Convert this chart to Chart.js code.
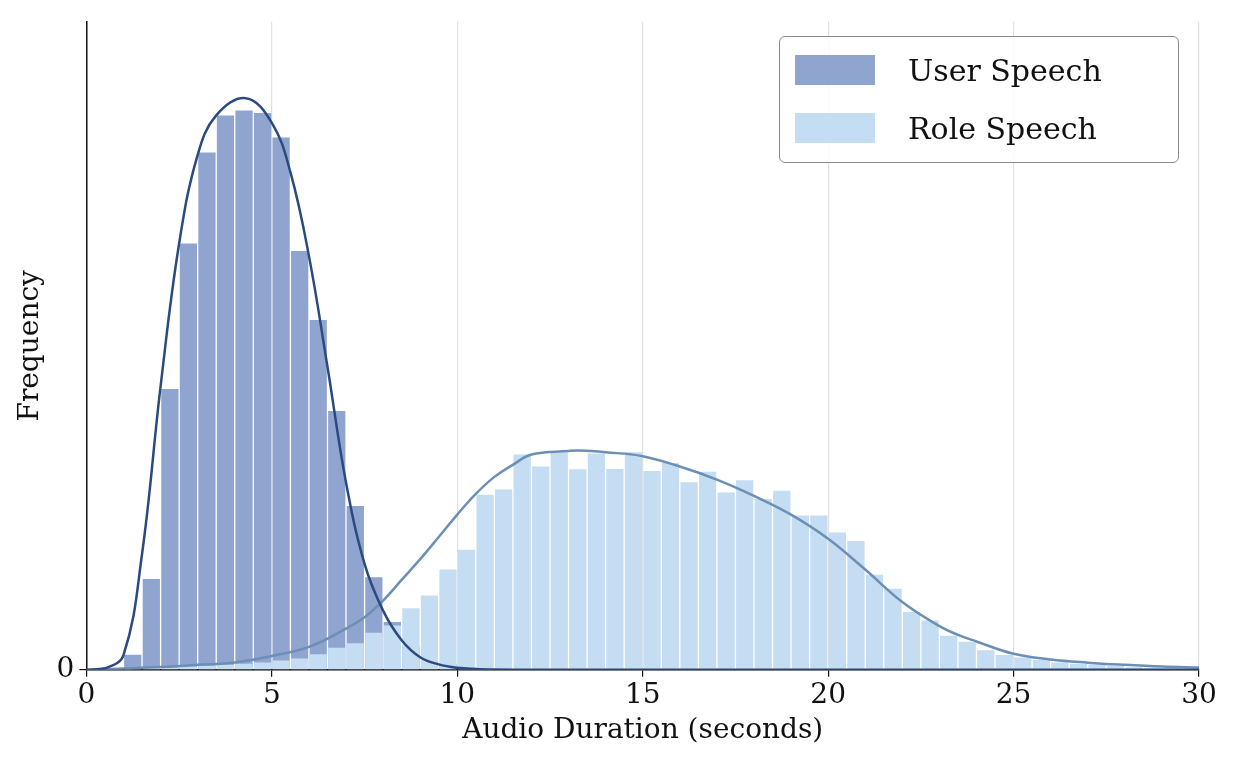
<!DOCTYPE html>
<html><head><meta charset="utf-8">
<script src="https://cdn.jsdelivr.net/npm/chart.js@4"></script>
<style>
body{margin:0;background:#fff;}
#wrap{position:relative;width:1241px;height:762px;}
#legend{position:absolute;left:779px;top:36px;width:398px;height:125px;border:1.5px solid #8a8a8a;border-radius:6px;background:rgba(255,255,255,0.85);font-family:"DejaVu Serif";font-size:30px;color:#111;}
.it{position:absolute;left:15px;height:30px;display:flex;align-items:center;}
.sw{width:80px;height:30px;margin-right:33px;}
</style></head>
<body><div id="wrap"><canvas id="c" width="1241" height="762"></canvas>
<div id="legend">
<div class="it" style="top:18px"><div class="sw" style="background:#90a4d0"></div>User Speech</div>
<div class="it" style="top:76px"><div class="sw" style="background:#c4ddf2"></div>Role Speech</div>
</div></div>
<script>
const binStarts = [];
for (let i = 0; i < 60; i++) binStarts.push(i * 0.5);
const userCounts = [0,0,610,3690,11400,17300,21000,22500,22700,22600,21600,17000,14200,10500,6650,3760,1940,960,420,250,100,50,20,0,0,0,0,0,0,0,0,0,0,0,0,0,0,0,0,0,0,0,0,0,0,0,0,0,0,0,0,0,0,0,0,0,0,0,0,0];
const roleCounts = [20,40,60,80,100,130,160,200,250,300,380,460,630,890,1080,1500,1800,2500,3020,4070,4870,7100,7320,8740,8250,8830,8140,8780,8150,8830,8070,8390,7610,8040,7200,7690,6930,7270,6260,6260,5570,5230,3860,3290,2350,2000,1380,1140,790,600,500,400,300,250,200,150,100,80,60,40];
const userCurveX = [0,0.5,1,1.5,2,2.5,3,3.5,4.3,5,5.5,6,6.5,7,7.5,8,8.5,9,9.5,10,10.5,11,12,30];
const userCurveY = [0,60,600,4700,11500,17300,20900,22500,23200,22200,20200,16800,12300,7600,4300,2400,1200,510,220,80,30,10,0,0];
const roleCurveX = [0,1,2,3,4,5,6,7,7.5,8,8.5,9,9.5,10,10.5,11,11.5,12,13,13.3,14,15,16,17,18,19,20,21,22,23,23.5,24,25,26,27,28,29,30];
const roleCurveY = [0,50,110,200,300,560,930,1670,2130,2810,3650,4490,5390,6300,7140,7830,8320,8740,8880,8900,8830,8670,8250,7720,7060,6300,5320,4070,2750,1770,1420,1150,650,420,290,200,130,90];

const pts = (xs, ys, off) => xs.map((x, i) => ({x: x + off, y: ys[i]}));
const serif = "DejaVu Serif";
const keep = v => v % 5000 === 0;
new Chart(document.getElementById('c'), {
  data: {datasets: [
    {type:'line', data: pts(userCurveX, userCurveY, 0), borderColor:'#2b4a7e', borderWidth:2.5, pointRadius:0, tension:0.4, order:0},
    {type:'line', data: pts(roleCurveX, roleCurveY, 0), borderColor:'#6b8fb5', borderWidth:2.5, pointRadius:0, tension:0.4, order:1},
    {type:'bar', data: pts(binStarts, roleCounts, 0.25), backgroundColor:'#c4ddf2', grouped:false, barPercentage:0.93, categoryPercentage:1, order:2},
    {type:'bar', data: pts(binStarts, userCounts, 0.25), backgroundColor:'#90a4d0', grouped:false, barPercentage:0.93, categoryPercentage:1, order:3}
  ]},
  options: {
    responsive:false, animation:false,
    layout:{padding:{top:15,right:42,left:10,bottom:10}},
    plugins:{legend:{display:false}, tooltip:{enabled:false}},
    scales:{
      x:{type:'linear', min:0, max:30, offset:false,
        ticks:{stepSize:5, font:{family:serif,size:28}, color:'#111', padding:2, maxRotation:0},
        grid:{color:'#e0e0e0', lineWidth:1.2, tickColor:'#111', tickLength:7, offset:false},
        border:{color:'#111', width:1.5},
        title:{display:true, text:'Audio Duration (seconds)', font:{family:serif,size:28}, color:'#111', padding:{top:0}}},
      y:{type:'linear', min:0, max:26300,
        ticks:{stepSize:5000, font:{family:serif,size:28}, color:'#111', padding:5,
          callback:v => keep(v) ? String(v) : ''},
        grid:{color:c => keep(c.tick.value) ? '#e0e0e0' : 'rgba(0,0,0,0)', lineWidth:1.2,
          tickColor:c => keep(c.tick.value) ? '#111' : 'rgba(0,0,0,0)', tickLength:7},
        border:{color:'#111', width:1.5},
        title:{display:true, text:'Frequency', font:{family:serif,size:28}, color:'#111', padding:{bottom:4}}}
    }
  }
});
</script></body></html>
